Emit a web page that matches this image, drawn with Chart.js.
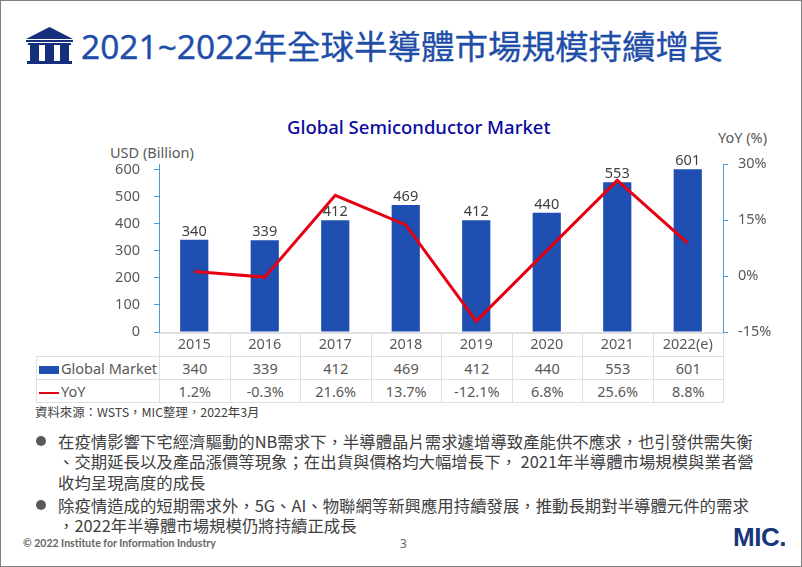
<!DOCTYPE html>
<html lang="zh-Hant">
<head>
<meta charset="utf-8">
<title>2021~2022年全球半導體市場規模持續增長</title>
<script src="https://cdn.jsdelivr.net/npm/chart.js@4"></script>
<style>
  html, body { margin: 0; padding: 0; background: #fff; }
  body { width: 802px; height: 567px; overflow: hidden; position: relative;
         font-family: "Noto Sans", "Noto Sans CJK TC", sans-serif; color: #595959; }
  #frame { position: absolute; left: 0; top: 0; width: 800px; height: 565px; border: 1px solid #808080; }
  #chart { position: absolute; left: 0; top: 0; z-index: 2; }
  .t { position: absolute; white-space: nowrap; line-height: 1; }
  #title { left: 81px; top: 30px; font-size: 33.5px; color: #1f4ea8; -webkit-text-stroke: 0.3px #1f4ea8; }
  #chartTitle { left: 287px; top: 118px; font-size: 18.5px; font-weight: 500; color: #0a0aa0; }
  .unit { font-size: 14.5px; }
  #src { left: 35px; top: 406px; font-size: 12.4px; color: #404040; font-family: "Noto Sans CJK TC", sans-serif; }
  .body { left: 58px; font-size: 16.4px; color: #404040; font-family: "Noto Sans CJK TC", sans-serif; }
  .dot { position: absolute; left: 36px; width: 10px; height: 10px; border-radius: 50%; background: #595959; }
  #copy { left: 23px; top: 538px; font-family: Lato, sans-serif; font-size: 10.5px; font-weight: 700; color: #666; }
  #page { left: 400px; top: 538px; font-size: 12px; color: #666; }
  #logo { left: 733px; top: 524px; font-size: 26px; font-weight: 700; letter-spacing: -0.5px; color: #17367c; font-family: "Liberation Sans", sans-serif; }
  table { position: absolute; left: 36px; top: 333px; border-collapse: collapse; table-layout: fixed; width: 687px; z-index: 1; }
  td { border: 1px solid #e0e0e0; text-align: center; padding: 0; font-size: 14.5px; height: 22px; line-height: 20px; }
  td.head { text-align: left; white-space: nowrap; padding-left: 2px; }
  td.blank { border: none; }
  .sw { display: inline-block; vertical-align: middle; margin-right: 2px; width: 20px; }
  .sw.bar { height: 8px; background: #1f4fb0; }
  .sw.line { height: 2px; background: #e60012; }
</style>
</head>
<body>
<div id="frame"></div>

<svg style="position:absolute;left:25px;top:26px" width="49" height="40" viewBox="0 0 49 40">
  <polygon points="24.5,1 48,13 1,13" fill="#14307c"/>
  <rect x="1" y="14" width="47" height="2" fill="#14307c"/>
  <rect x="3" y="17" width="43" height="2" fill="#14307c"/>
  <rect x="5" y="19" width="9" height="17" fill="#14307c"/>
  <rect x="20" y="19" width="9" height="17" fill="#14307c"/>
  <rect x="35" y="19" width="9" height="17" fill="#14307c"/>
  <rect x="2" y="35" width="45" height="3" fill="#14307c"/>
</svg>

<div class="t" id="title">2021~2022年全球半導體市場規模持續增長</div>
<div class="t" id="chartTitle">Global Semiconductor Market</div>
<div class="t unit" style="left:110px;top:145px">USD (Billion)</div>
<div class="t unit" style="left:718px;top:130px">YoY (%)</div>

<table id="tbl"></table>
<canvas id="chart" width="802" height="567"></canvas>

<div class="t" id="src">資料來源：WSTS，MIC整理，2022年3月</div>
<div class="dot" style="top:436px"></div>
<div class="t body" style="top:433px">在疫情影響下宅經濟驅動的NB需求下，半導體晶片需求遽增導致產能供不應求，也引發供需失衡</div>
<div class="t body" style="top:453px">、交期延長以及產品漲價等現象；在出貨與價格均大幅增長下， 2021年半導體市場規模與業者營</div>
<div class="t body" style="top:474px">收均呈現高度的成長</div>
<div class="dot" style="top:500px"></div>
<div class="t body" style="top:497px">除疫情造成的短期需求外，5G、AI、物聯網等新興應用持續發展，推動長期對半導體元件的需求</div>
<div class="t body" style="top:517px">，2022年半導體市場規模仍將持續正成長</div>
<div class="t" id="copy">© 2022 Institute for Information Industry</div>
<div class="t" id="page">3</div>
<div class="t" id="logo">MIC.</div>

<script>
const years = ['2015', '2016', '2017', '2018', '2019', '2020', '2021', '2022(e)'];
const marketValues = [340, 339, 412, 469, 412, 440, 553, 601];
const yoyValues = [1.2, -0.3, 21.6, 13.7, -12.1, 6.8, 25.6, 8.8];
const leftTicks = [0, 100, 200, 300, 400, 500, 600];
const rightTicks = [-15, 0, 15, 30];

const textColor = '#595959';
const axisColor = '#4a9bd6';
const fontFamily = '"Noto Sans", "Noto Sans CJK TC", sans-serif';

// data table under the chart, first row is left empty for the x axis labels
function buildTable() {
  let html = '<colgroup><col style="width:123px">' + years.map(() => '<col style="width:70.5px">').join('') + '</colgroup>';
  html += '<tr><td class="blank"></td>' + years.map(() => '<td></td>').join('') + '</tr>';
  html += '<tr><td class="head"><span class="sw bar"></span>Global Market</td>' + marketValues.map(v => '<td>' + v + '</td>').join('') + '</tr>';
  html += '<tr><td class="head"><span class="sw line"></span>YoY</td>' + yoyValues.map(v => '<td>' + v.toFixed(1) + '%</td>').join('') + '</tr>';
  document.getElementById('tbl').innerHTML = html;
}
buildTable();

const barLabels = {
  id: 'barLabels',
  afterDatasetsDraw(chart) {
    const ctx = chart.ctx;
    const meta = chart.getDatasetMeta(1);
    ctx.save();
    ctx.font = '14.5px ' + fontFamily;
    ctx.fillStyle = '#404040';
    ctx.textAlign = 'center';
    ctx.textBaseline = 'middle';
    meta.data.forEach((bar, i) => ctx.fillText(marketValues[i], bar.x, bar.y - 8));
    ctx.restore();
  }
};

new Chart(document.getElementById('chart'), {
  data: {
    labels: years,
    datasets: [
      { type: 'line', label: 'YoY', data: yoyValues, yAxisID: 'y2', borderColor: '#e60012', borderWidth: 3, pointRadius: 0, tension: 0, order: 1 },
      { type: 'bar', label: 'Global Market', data: marketValues, yAxisID: 'y', backgroundColor: '#1f4fb0', barPercentage: 0.4, categoryPercentage: 1, order: 2 }
    ]
  },
  options: {
    responsive: false,
    animation: false,
    layout: { padding: { left: 100, right: 29, top: 164, bottom: 204 } },
    plugins: { legend: { display: false }, title: { display: false }, tooltip: { enabled: false } },
    scales: {
      x: {
        grid: { display: false },
        border: { color: '#e0e0e0' },
        ticks: { color: textColor, font: { size: 14.5, family: fontFamily }, padding: -4, maxRotation: 0, autoSkip: false },
        afterFit(s) { s.height = 31; }
      },
      y: {
        position: 'left',
        min: 0,
        max: 620,
        afterBuildTicks(s) { s.ticks = leftTicks.map(v => ({ value: v })); },
        afterFit(s) { s.width = 59; },
        grid: { drawOnChartArea: false, tickColor: axisColor, tickLength: 5 },
        border: { color: axisColor },
        ticks: { color: textColor, font: { size: 14.5, family: fontFamily }, padding: 14 }
      },
      y2: {
        position: 'right',
        min: -15,
        max: 30,
        afterBuildTicks(s) { s.ticks = rightTicks.map(v => ({ value: v })); },
        afterFit(s) { s.width = 50; },
        grid: { drawOnChartArea: false, tickColor: axisColor, tickLength: 5 },
        border: { color: axisColor },
        ticks: { color: textColor, font: { size: 14.5, family: fontFamily }, padding: 10, callback: v => v + '%' }
      }
    }
  },
  plugins: [barLabels]
});
</script>
</body>
</html>
